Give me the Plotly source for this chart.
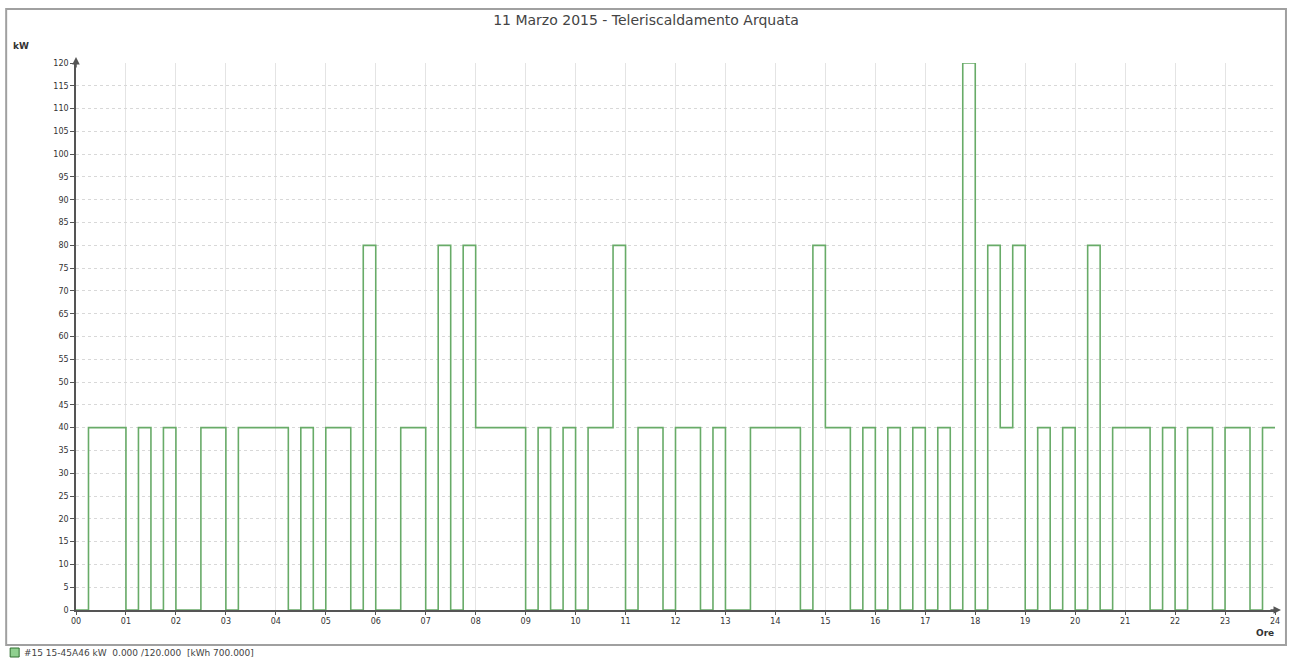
import plotly.graph_objects as go

# 15-minute average power (kW), one row per hour (00..23)
hour_labels = [f"{h:02d}" for h in range(25)]
power_kw_by_hour = [
    [0, 40, 40, 40],   # 00
    [0, 40, 0, 40],    # 01
    [0, 0, 40, 40],    # 02
    [0, 40, 40, 40],   # 03
    [40, 0, 40, 0],    # 04
    [40, 40, 0, 80],   # 05
    [0, 0, 40, 40],    # 06
    [0, 80, 0, 80],    # 07
    [40, 40, 40, 40],  # 08
    [0, 40, 0, 40],    # 09
    [0, 40, 40, 80],   # 10
    [0, 40, 40, 0],    # 11
    [40, 40, 0, 40],   # 12
    [0, 0, 40, 40],    # 13
    [40, 40, 0, 80],   # 14
    [40, 40, 0, 40],   # 15
    [0, 40, 0, 40],    # 16
    [0, 40, 0, 120],   # 17
    [0, 80, 40, 80],   # 18
    [0, 40, 0, 40],    # 19
    [0, 80, 0, 40],    # 20
    [40, 40, 0, 40],   # 21
    [0, 40, 40, 0],    # 22
    [40, 40, 0, 40],   # 23
]
y_ticks = list(range(0, 121, 5))
title_text = "11 Marzo 2015 - Teleriscaldamento Arquata"
legend_text = "#15 15-45A46 kW  0.000 /120.000  [kWh 700.000]"

values = [v for row in power_kw_by_hour for v in row]
times = [i / 4 for i in range(len(values) + 1)]
values_plot = values + [values[-1]]

GREEN = "#68ab68"
AX = "#555555"
FONT = "DejaVu Sans"

fig = go.Figure()
fig.add_trace(go.Scatter(
    x=times, y=values_plot, mode="lines", line=dict(color=GREEN, width=1.6, shape="hv"),
    hoverinfo="skip", showlegend=False,
))

W, H = 1292, 659
L, R, T, B = 76, 14, 63, 49
pw = W - L - R
ph = H - T - B

def px_x(p):
    return (p - L) / pw

def px_y(p):
    return (H - B - p) / ph

fig.update_layout(
    width=W, height=H,
    margin=dict(l=L, r=R, t=T, b=B),
    paper_bgcolor="white", plot_bgcolor="white",
    title=dict(text=title_text, x=0.5, xanchor="center", y=1 - 20 / H, yanchor="middle",
               font=dict(family=FONT, size=14, color="#444444")),
    xaxis=dict(range=[0, 24], tickmode="array", tickvals=list(range(25)), ticktext=hour_labels,
               showline=True, linecolor=AX, linewidth=1.5, ticks="outside", ticklen=3, tickcolor=AX,
               showgrid=True, gridcolor="#e4e4e4", gridwidth=1,
               zeroline=False, tickfont=dict(family=FONT, size=8, color="#333333")),
    yaxis=dict(range=[0, 120], tickmode="array", tickvals=y_ticks,
               showline=True, linecolor=AX, linewidth=1.5, ticks="outside", ticklen=4, tickcolor=AX,
               showgrid=True, gridcolor="#d8d8d8", gridwidth=1, griddash="dot",
               zeroline=False, tickfont=dict(family=FONT, size=8, color="#333333")),
    shapes=[
        dict(type="rect", xref="paper", yref="paper",
             x0=px_x(6), x1=px_x(1289), y0=px_y(645), y1=px_y(9),
             line=dict(color="#a0a0a0", width=2), fillcolor="rgba(0,0,0,0)", layer="below"),
        dict(type="rect", xref="paper", yref="paper",
             x0=px_x(10), x1=px_x(19), y0=px_y(657), y1=px_y(648),
             line=dict(color="#2f6f2f", width=1), fillcolor="#8fd08f"),
    ],
    annotations=[
        dict(x=0, y=px_y(57), xref="paper", yref="paper", ax=0, ay=12, text="",
             showarrow=True, arrowhead=2, arrowsize=1, arrowwidth=1.5, arrowcolor=AX),
        dict(x=px_x(1284), y=0, xref="paper", yref="paper", ax=-12, ay=0, text="",
             showarrow=True, arrowhead=2, arrowsize=1, arrowwidth=1.5, arrowcolor=AX),
        dict(x=px_x(11), y=px_y(46), xref="paper", yref="paper", text="<b>kW</b>",
             showarrow=False, xanchor="left", yanchor="middle",
             font=dict(family=FONT, size=9, color="#333333")),
        dict(x=px_x(1279), y=px_y(633), xref="paper", yref="paper", text="<b>Ore</b>",
             showarrow=False, xanchor="right", yanchor="middle",
             font=dict(family=FONT, size=9, color="#333333")),
        dict(x=px_x(22), y=px_y(653), xref="paper", yref="paper", text=legend_text,
             showarrow=False, xanchor="left", yanchor="middle",
             font=dict(family=FONT, size=9, color="#444444")),
    ],
)

fig.write_html("out.html", config={"displayModeBar": False})

# remove the default 8px body margin so the figure fills the window exactly
with open("out.html", "r", encoding="utf-8") as f:
    html = f.read()
html = html.replace("<body>", '<body style="margin:0;padding:0;overflow:hidden">', 1)
with open("out.html", "w", encoding="utf-8") as f:
    f.write(html)
